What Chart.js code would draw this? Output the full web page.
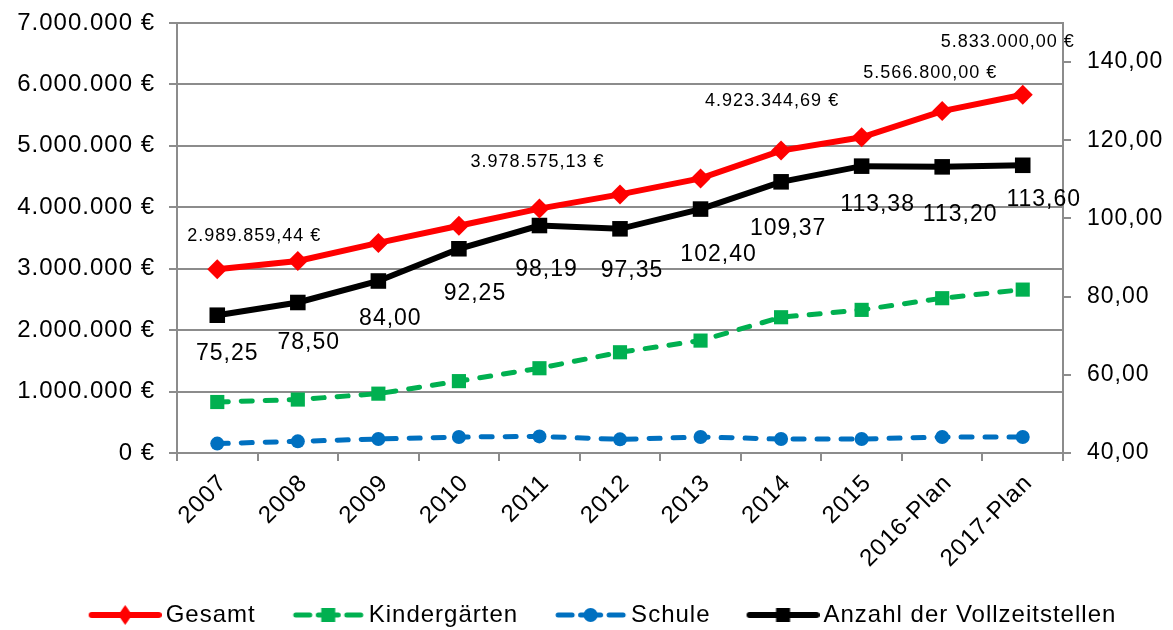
<!DOCTYPE html>
<html>
<head>
<meta charset="utf-8">
<script src="https://cdn.jsdelivr.net/npm/chart.js@4.4.0/dist/chart.umd.min.js"></script>
<style>
html,body{margin:0;padding:0;background:#ffffff;}
#wrap{width:1173px;height:630px;position:relative;}
</style>
</head>
<body>
<div id="wrap"><canvas id="c" width="1173" height="630"></canvas></div>
<script>
// ---------- data ----------
const categories = ['2007','2008','2009','2010','2011','2012','2013','2014','2015','2016-Plan','2017-Plan'];
const gesamt = [2989859.44, 3125000, 3420000, 3700000, 3978575.13, 4210000, 4470000, 4923344.69, 5140000, 5566800.00, 5833000.00];
const kindergaerten = [830000, 870000, 966000, 1170000, 1380000, 1640000, 1830000, 2210000, 2330000, 2520000, 2660000];
const schule = [153000, 190000, 228000, 260000, 270000, 222000, 260000, 228000, 228000, 260000, 260000];
const vollzeitstellen = [75.25, 78.50, 84.00, 92.25, 98.19, 97.35, 102.40, 109.37, 113.38, 113.20, 113.60];
const gesamtLabelIndices = [0, 4, 7, 9, 10];
const leftTickValues = [0, 1000000, 2000000, 3000000, 4000000, 5000000, 6000000, 7000000];
const rightTickValues = [40, 60, 80, 100, 120, 140];
const seriesNames = ['Gesamt', 'Kindergärten', 'Schule', 'Anzahl der Vollzeitstellen'];

// ---------- styles ----------
const RED = '#ff0000', GREEN = '#00b050', BLUE = '#0070c0', BLACK = '#000000', GRID = '#8c8c8c';
const FONT = '"Liberation Sans", Arial, sans-serif';
// label offsets (px) relative to the point, as placed in the original
const gesamtLabelOffsets = [[37,-33],[-2,-47],[-9,-50],[-12,-38],[-15,-53]];
const vzLabelOffsets = [[10,38],[11,40],[12,38],[16,45],[7,44],[12,42],[18,46],[7,47],[16,39],[18,48],[21,34]];

const deNum = (v, d) => v.toLocaleString('de-DE', {minimumFractionDigits: d, maximumFractionDigits: d});

// legend sample: blank gap on the left (item spacing), then a 73px line sample with marker
const LEG_GAP = 40, LEG_SAMPLE = 73;
const LEG_W = LEG_GAP + LEG_SAMPLE;      // image width
const LEG_BOX = LEG_W - 16;              // legend box width used by Chart.js
function legendImg(color, dashed, marker) {
  const c = document.createElement('canvas');
  c.width = LEG_W; c.height = 24;
  const g = c.getContext('2d');
  g.strokeStyle = color; g.fillStyle = color;
  g.lineCap = 'round';
  const x0 = LEG_GAP, cy = 12, cx = x0 + LEG_SAMPLE / 2;
  if (dashed) {
    g.lineWidth = 5;
    g.beginPath(); g.moveTo(x0 + 4, cy); g.lineTo(x0 + 18, cy); g.stroke();
    g.beginPath(); g.moveTo(x0 + 55, cy); g.lineTo(x0 + 69, cy); g.stroke();
    g.beginPath(); g.moveTo(cx - 10, cy); g.lineTo(cx + 10, cy); g.stroke();
  } else {
    g.lineWidth = 6;
    g.beginPath(); g.moveTo(x0 + 3, cy); g.lineTo(x0 + LEG_SAMPLE - 3, cy); g.stroke();
  }
  g.beginPath();
  if (marker === 'diamond') {
    g.moveTo(cx, cy - 10); g.lineTo(cx + 7, cy); g.lineTo(cx, cy + 10); g.lineTo(cx - 7, cy); g.closePath();
  } else if (marker === 'square') {
    g.rect(cx - 7, cy - 7, 14, 14);
  } else {
    g.arc(cx, cy, 7, 0, Math.PI * 2);
  }
  g.fill();
  return c;
}
const legendImgs = [
  legendImg(RED, false, 'diamond'),
  legendImg(GREEN, true, 'square'),
  legendImg(BLUE, true, 'circle'),
  legendImg(BLACK, false, 'square')
];

const spacingPlugin = {
  id: 'spacing',
  beforeUpdate(chart) { chart.ctx.letterSpacing = '1px'; },
  beforeDraw(chart) { chart.ctx.letterSpacing = '1px'; }
};

const valueLabelPlugin = {
  id: 'valueLabels',
  afterDatasetsDraw(chart) {
    const ctx = chart.ctx;
    ctx.save();
    ctx.fillStyle = '#000';
    ctx.textAlign = 'center';
    ctx.textBaseline = 'middle';
    const m0 = chart.getDatasetMeta(0);
    ctx.font = '18px ' + FONT;
    gesamtLabelIndices.forEach((idx, k) => {
      const p = m0.data[idx];
      const t = deNum(gesamt[idx], 2) + ' €';
      ctx.fillText(t, p.x + gesamtLabelOffsets[k][0], p.y + gesamtLabelOffsets[k][1]);
    });
    const m3 = chart.getDatasetMeta(3);
    ctx.font = '23px ' + FONT;
    vollzeitstellen.forEach((v, i) => {
      const p = m3.data[i];
      ctx.fillText(deNum(v, 2), p.x + vzLabelOffsets[i][0], p.y + vzLabelOffsets[i][1]);
    });
    ctx.restore();
  }
};

function noVertPadding(s) { s.paddingTop = 0; s.paddingBottom = 0; }

new Chart(document.getElementById('c'), {
  type: 'line',
  data: {
    labels: categories,
    datasets: [
      { label: seriesNames[0], data: gesamt, yAxisID: 'y', borderColor: RED, backgroundColor: RED,
        borderWidth: 6, pointStyle: 'rectRot', pointRadius: 10, pointBorderWidth: 0, tension: 0 },
      { label: seriesNames[1], data: kindergaerten, yAxisID: 'y', borderColor: GREEN, backgroundColor: GREEN,
        borderWidth: 5, borderDash: [11, 13], borderCapStyle: 'round', pointStyle: 'rect', pointRadius: 10, pointBorderWidth: 0, tension: 0 },
      { label: seriesNames[2], data: schule, yAxisID: 'y', borderColor: BLUE, backgroundColor: BLUE,
        borderWidth: 5, borderDash: [11, 13], borderCapStyle: 'round', pointStyle: 'circle', pointRadius: 7, pointBorderWidth: 0, tension: 0 },
      { label: seriesNames[3], data: vollzeitstellen, yAxisID: 'y1', borderColor: BLACK, backgroundColor: BLACK,
        borderWidth: 6, pointStyle: 'rect', pointRadius: 11, pointBorderWidth: 0, tension: 0 }
    ]
  },
  options: {
    responsive: false,
    animation: false,
    devicePixelRatio: 1,
    layout: { padding: { top: 23, left: 0, right: 0, bottom: -7 } },
    plugins: {
      tooltip: { enabled: false },
      legend: {
        position: 'bottom',
        labels: {
          usePointStyle: true,
          pointStyleWidth: LEG_BOX,
          padding: 4,
          color: '#000',
          font: { family: FONT, size: 24 },
          generateLabels(chart) {
            return chart.data.datasets.map((ds, i) => ({
              text: ds.label, pointStyle: legendImgs[i], datasetIndex: i,
              fillStyle: ds.borderColor, strokeStyle: ds.borderColor, lineWidth: 0, hidden: false, fontColor: '#000'
            }));
          }
        }
      }
    },
    scales: {
      x: {
        offset: true,
        grid: { offset: true, drawOnChartArea: false, drawTicks: true, tickLength: 8, color: GRID, lineWidth: 2 },
        border: { display: true, color: GRID, width: 2 },
        ticks: { color: '#000', font: { family: FONT, size: 24 }, minRotation: 45, maxRotation: 45, autoSkip: false, padding: 8, labelOffset: 6 },
        afterFit(s) { s.height = 146; }
      },
      y: {
        position: 'left',
        min: 0, max: 7000000,
        grid: { color: GRID, lineWidth: 2, drawTicks: true, tickLength: 8 },
        border: { display: true, color: GRID, width: 2 },
        afterBuildTicks(s) { s.ticks = leftTickValues.map(v => ({ value: v })); },
        ticks: { color: '#000', font: { family: FONT, size: 24 }, padding: 14,
          callback: v => deNum(v, 0) + ' €' },
        afterFit(s) { s.width = 177; noVertPadding(s); }
      },
      y1: {
        position: 'right',
        min: 40, max: 150,
        grid: { drawOnChartArea: false, drawTicks: true, tickLength: 8, color: GRID, lineWidth: 2 },
        border: { display: true, color: GRID, width: 2 },
        afterBuildTicks(s) { s.ticks = rightTickValues.map(v => ({ value: v })); },
        ticks: { color: '#000', font: { family: FONT, size: 23 }, padding: 16,
          callback: v => deNum(v, 2) },
        afterFit(s) { s.width = 110; noVertPadding(s); }
      }
    }
  },
  plugins: [spacingPlugin, valueLabelPlugin]
});
</script>
</body>
</html>
